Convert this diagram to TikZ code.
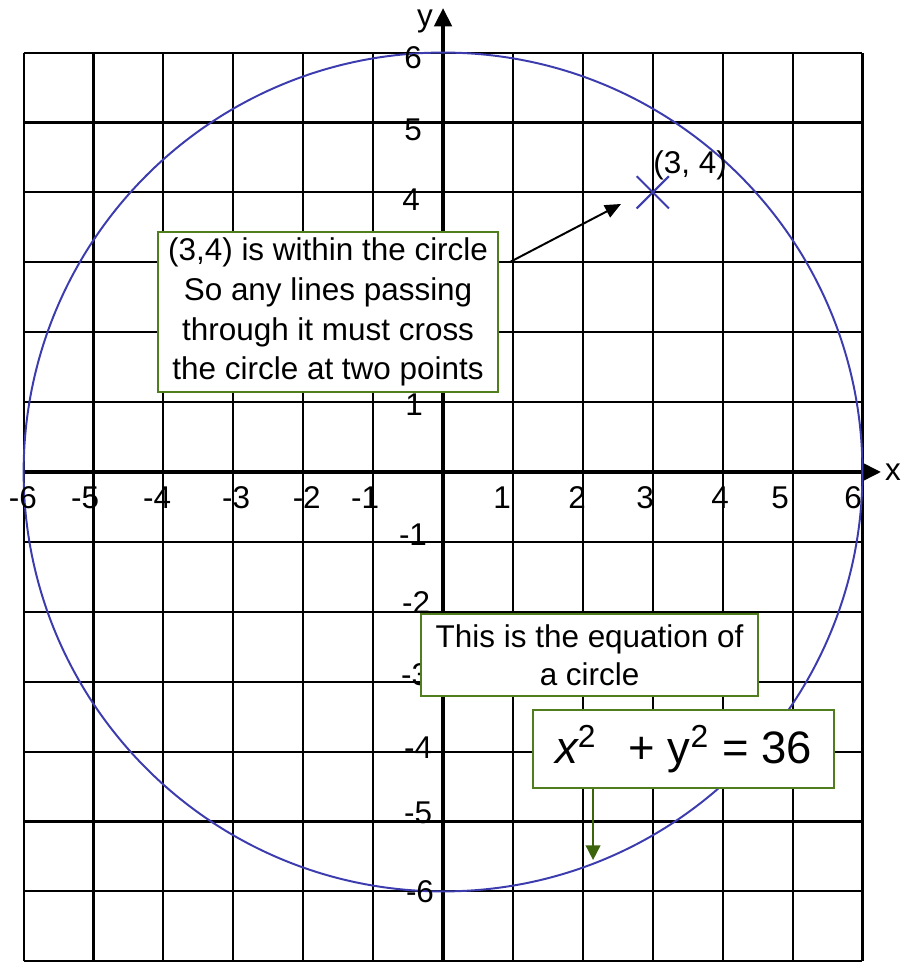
\documentclass[tikz,border=0pt]{standalone}
\usepackage{fontspec}
\setmainfont{Liberation Sans}
\usetikzlibrary{arrows.meta,calc}
\definecolor{circblue}{RGB}{60,60,175}
\definecolor{boxgreen}{RGB}{80,125,30}
\definecolor{arrgreen}{RGB}{60,100,10}
\begin{document}
\begin{tikzpicture}[
  every node/.style={font=\fontsize{12.8}{16.2}\selectfont, inner sep=0pt},
  gridline/.style={black, line width=0.85pt},
  axisline/.style={black, line width=1.7pt},
  ticklab/.style={anchor=center},
  note/.style={draw=boxgreen, line width=0.8pt, fill=white, align=center},
  circleline/.style={circblue, line width=0.8pt},
  pointer/.style={black, line width=0.8pt, -{Triangle[length=6.5pt,width=5.5pt]}},
  greenpointer/.style={arrgreen, line width=0.7pt, -{Triangle[length=6pt,width=6pt]}},
  marker/.style={circblue, line width=0.8pt}
]
\useasboundingbox (-6.338,-7.024) rectangle (6.552,6.752);

% grid
\draw[gridline] (-6,-7) grid (6,6);

% axes
\draw[axisline,-{Triangle[length=7.5pt,width=7pt]}] (-6,0) -- (6.266,0);
\draw[axisline,-{Triangle[length=7.5pt,width=7pt]}] (0,-7) -- (0,6.638);
\node[ticklab] (xlab) at (6.438,0) {x};
\node[ticklab] (ylab) at (-0.258,6.438) {y};

% circle
\draw[circleline] (0,0) circle (6);

% x tick labels
\foreach \t/\x/\n in {-6/-6.01/a,-5/-5.12/b,-4/-4.09/c,-3/-2.96/d,-2/-1.95/e,-1/-1.116/f,
                      1/0.844/g,2/1.917/h,3/2.89/i,4/3.963/j,5/4.82/k,6/5.866/l}
  \node[ticklab] (xt\n) at (\x,-0.372) {\t};

% y tick labels
\foreach \t/\x/\y/\n in {6/-0.429/5.923/a,5/-0.429/4.893/b,4/-0.458/3.89/c,1/-0.415/0.958/d,
                         -1/-0.43/-0.90/e,-2/-0.386/-1.874/f,-3/-0.40/-2.9/g,
                         -4/-0.358/-3.95/h,-5/-0.358/-4.88/i,-6/-0.33/-6.01/j}
  \node[ticklab] (yt\n) at (\x,\y) {\t};

% point (3,4)
\coordinate (P) at (3,4);
\draw[marker] ($(P)+(-0.23,-0.23)$) -- ($(P)+(0.23,0.23)$);
\draw[marker] ($(P)+(-0.23,0.23)$) -- ($(P)+(0.23,-0.23)$);
\node[ticklab] (plab) at (3.534,4.392) {(3, 4)};

% notes
\node[note, minimum width=4.864cm, minimum height=2.289cm] (box1) at (-1.645,2.289)
  {(3,4) is within the circle\\So any lines passing\\through it must cross\\the circle at two points};
\node[note, minimum width=4.821cm, minimum height=1.173cm,
      font=\fontsize{12.8}{15.4}\selectfont] (box2) at (2.096,-2.618)
  {This is the equation of\\a circle};
\node[note, minimum width=4.306cm, minimum height=1.116cm,
      font=\fontsize{18.5}{22}\selectfont] (box3) at (3.441,-3.963)
  {\itshape x\upshape\textsuperscript{2}\hspace{0.7em}+ y\textsuperscript{2} = 36};

% arrows
\coordinate (tail1) at (0.958,3.004);
\coordinate (tip1) at (2.546,3.834);
\draw[pointer] (tail1) -- (tip1);
\coordinate (tip2) at (2.146,-5.551);
\draw[greenpointer] (tip2 |- box3.south) -- (tip2);
\end{tikzpicture}
\end{document}
